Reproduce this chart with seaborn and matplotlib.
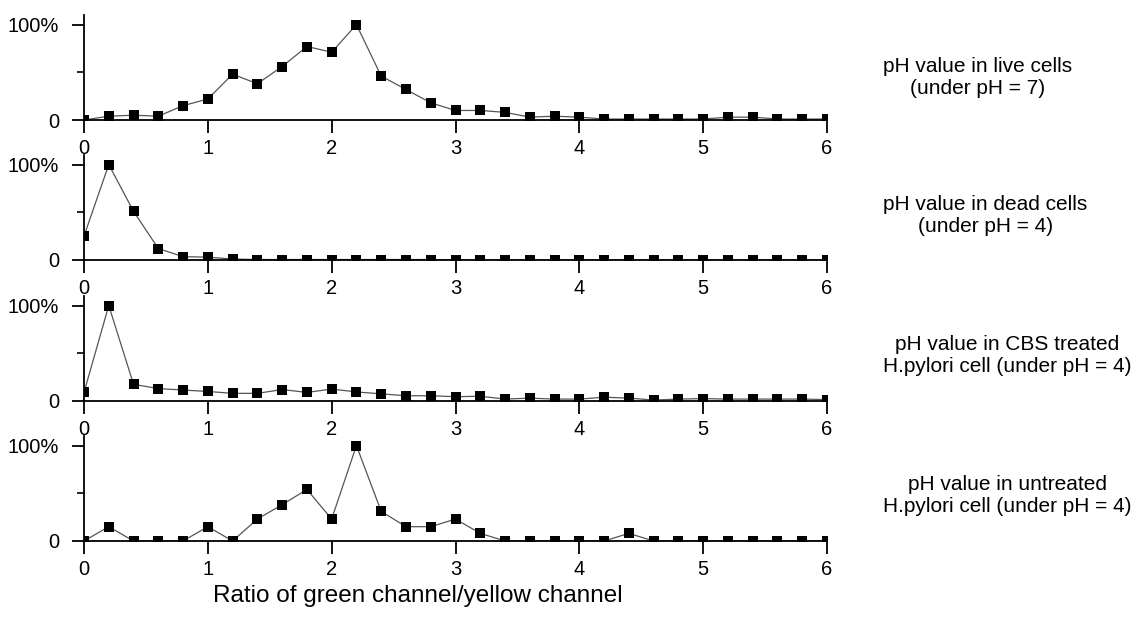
import matplotlib
matplotlib.use("Agg")
import matplotlib.pyplot as plt
import numpy as np
import pandas as pd
import seaborn as sns
from matplotlib.ticker import FixedLocator

# ratio bins 0.0 .. 6.0 step 0.2 (31 points)
ratio = [0.0, 0.2, 0.4, 0.6, 0.8, 1.0, 1.2, 1.4, 1.6, 1.8, 2.0,
         2.2, 2.4, 2.6, 2.8, 3.0, 3.2, 3.4, 3.6, 3.8, 4.0,
         4.2, 4.4, 4.6, 4.8, 5.0, 5.2, 5.4, 5.6, 5.8, 6.0]

live_ph7 = [0, 4, 5, 4, 15, 22, 48, 38, 56, 77, 71,
            100, 46, 32, 18, 10, 10, 8, 3, 4, 3,
            1, 1, 1, 1, 1, 3, 3, 1, 1, 1]

dead_ph4 = [25, 100, 51, 12, 3.5, 3, 1, 0.5, 0.5, 0.5, 0.5,
            0.5, 0.5, 0.5, 0.5, 0, 0, 0, 0, 0, 0,
            0, 0, 0, 0, 0, 0, 0, 0, 0, 0]

cbs_ph4 = [9, 100, 17.5, 13, 11.5, 10, 8, 8, 12, 9, 12.5,
           9.5, 7.5, 5.5, 5.5, 4.5, 5, 2, 3, 2, 2,
           4, 3, 1, 2, 2.5, 2, 2, 2, 2, 1.5]

untreated_ph4 = [0, 15, 0, 0, 0, 15, 0, 23, 38, 54, 23,
                 100, 31, 15, 15, 23, 8, 0, 0, 0, 0,
                 0, 8, 0, 0, 0, 0, 0, 0, 0, 0]

panel_labels = [
    "pH value in live cells\n(under pH = 7)",
    "pH value in dead cells\n(under pH = 4)",
    "pH value in CBS treated\nH.pylori cell (under pH = 4)",
    "pH value in untreated\nH.pylori cell (under pH = 4)",
]
x_label = "Ratio of green channel/yellow channel"

series = [live_ph7, dead_ph4, cbs_ph4, untreated_ph4]

sns.set_theme(style="ticks")
plt.rcParams["font.family"] = ["Liberation Sans", "DejaVu Sans"]

W, H = 1138, 635
fig = plt.figure(figsize=(W / 100, H / 100), dpi=100)

left_px, right_px = 84, 827
zero_px = [120, 260, 401, 541]
panel_h = 105
label_center_px = [78, 216, 355, 495]

for i, (vals, label) in enumerate(zip(series, panel_labels)):
    bottom = 1 - zero_px[i] / H
    ax = fig.add_axes([left_px / W, bottom, (right_px - left_px) / W, panel_h / H])
    df = pd.DataFrame({"ratio": ratio, "pct": vals})
    sns.lineplot(data=df, x="ratio", y="pct", ax=ax, color="#555555", linewidth=0.9,
                 marker="s", markersize=6.5, markerfacecolor="black",
                 markeredgecolor="black", markeredgewidth=0, zorder=2)
    ax.set_xlim(0, 6)
    ax.set_ylim(0, 110)
    sns.despine(ax=ax)
    for side in ["left", "bottom"]:
        ax.spines[side].set_linewidth(1.3)
        ax.spines[side].set_color("black")
        ax.spines[side].set_zorder(3)
    ax.set_xticks([0, 1, 2, 3, 4, 5, 6])
    ax.set_yticks([0, 100])
    ax.set_yticklabels(["0", "100%"])
    ax.yaxis.set_minor_locator(FixedLocator([50]))
    ax.tick_params(axis="both", which="major", direction="out", length=9, width=1.3,
                   color="black", labelsize=14.5, labelcolor="black")
    ax.tick_params(axis="y", which="major", pad=9)
    ax.tick_params(axis="x", which="major", pad=5)
    ax.tick_params(axis="y", which="minor", direction="out", length=5, width=1.2, color="black")
    ax.set_xlabel("")
    ax.set_ylabel("")
    ax.grid(False)

    fig.text(883 / W, 1 - label_center_px[i] / H, label, ha="left", va="center",
             multialignment="center", fontsize=15, linespacing=1.2, color="black")

fig.text(418 / W, 1 - 596 / H, x_label, ha="center", va="center", fontsize=17.5, color="black")

fig.savefig("out.png", dpi=100, facecolor="white")
